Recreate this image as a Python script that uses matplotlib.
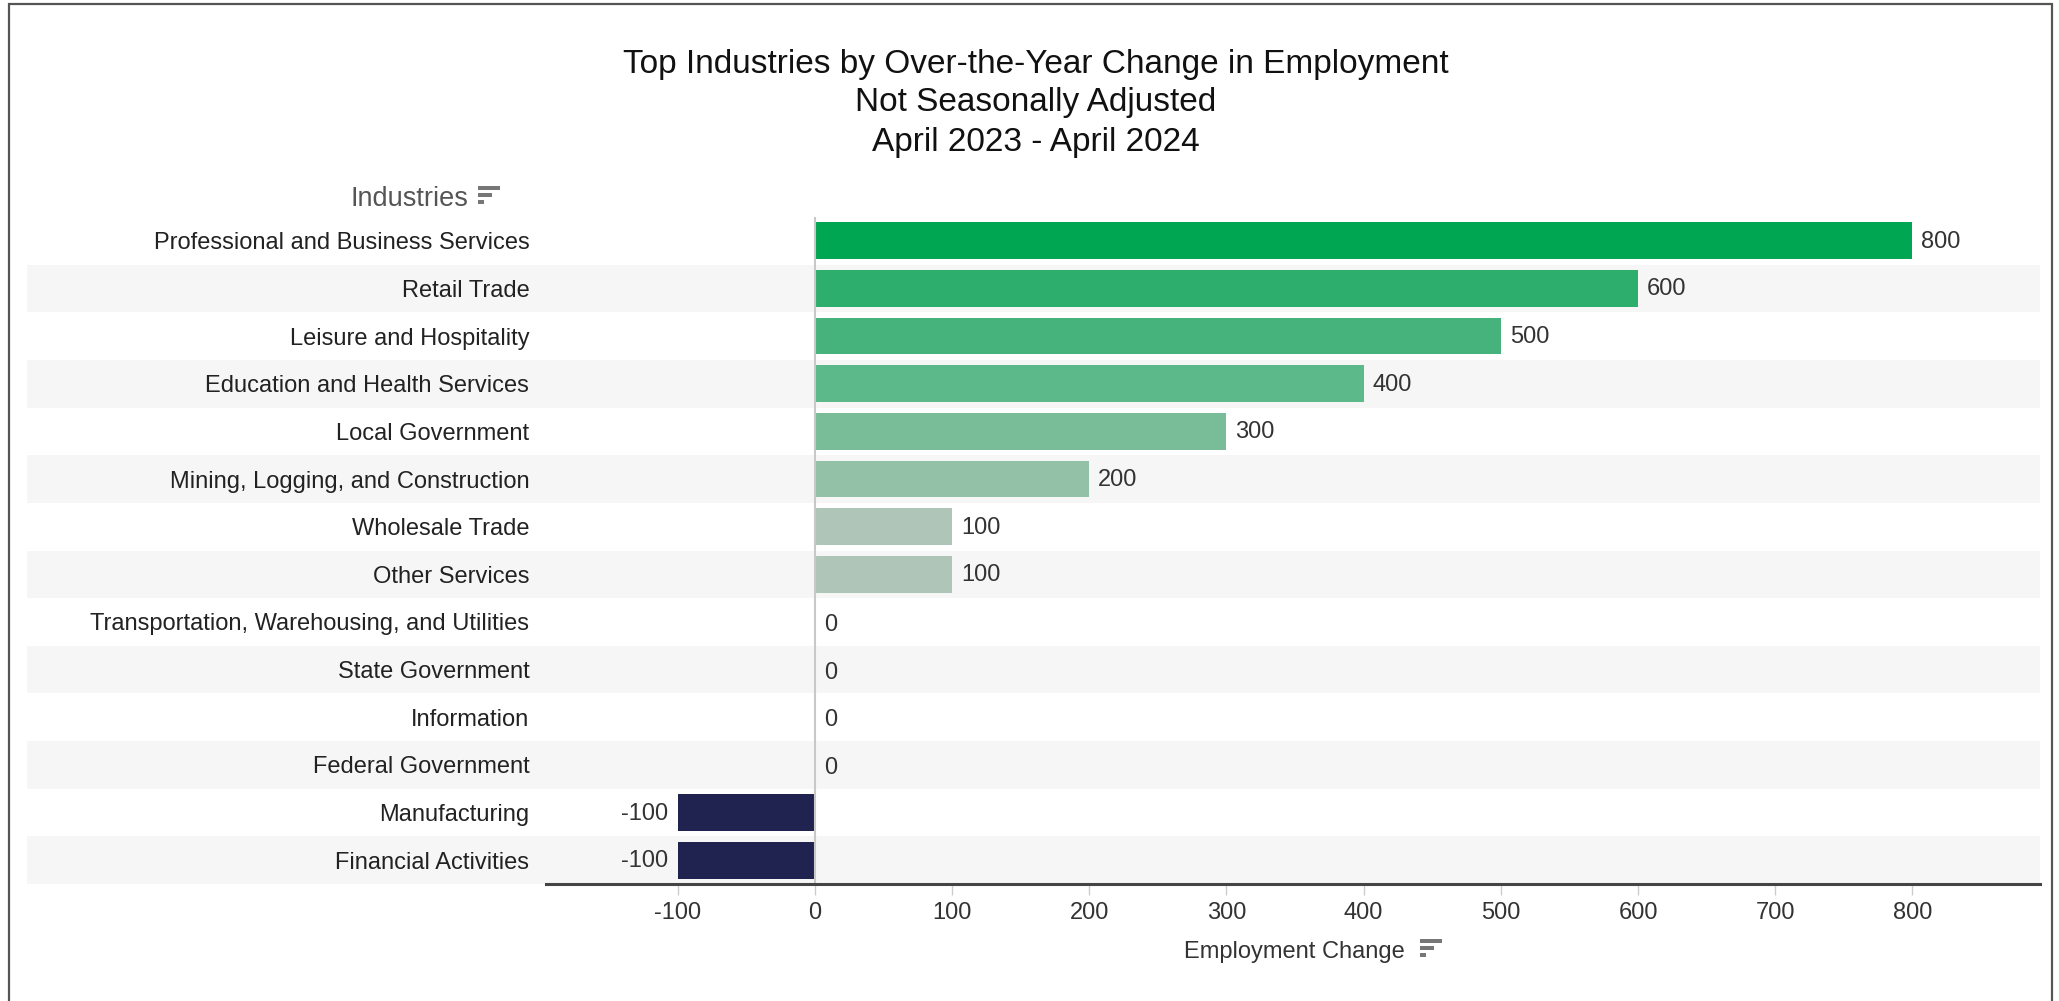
import matplotlib
matplotlib.use("Agg")
from matplotlib import pyplot as plt
from matplotlib.patches import Rectangle
import matplotlib.transforms as mtransforms

industries = [
    "Professional and Business Services",
    "Retail Trade",
    "Leisure and Hospitality",
    "Education and Health Services",
    "Local Government",
    "Mining, Logging, and Construction",
    "Wholesale Trade",
    "Other Services",
    "Transportation, Warehousing, and Utilities",
    "State Government",
    "Information",
    "Federal Government",
    "Manufacturing",
    "Financial Activities",
]
changes = [800, 600, 500, 400, 300, 200, 100, 100, 0, 0, 0, 0, -100, -100]
ticks = [-100, 0, 100, 200, 300, 400, 500, 600, 700, 800]

# colour by value (green scale for gains, navy for losses)
value_colors = {800: "#00a651", 600: "#2eae6c", 500: "#45b37b", 400: "#5cb98a",
                300: "#79bd98", 200: "#93c1a8", 100: "#aec5b7", 0: "#aec5b7",
                -100: "#202350"}

W, H = 2059, 1001
plt.rcParams['font.family'] = ['Liberation Sans', 'DejaVu Sans']
fig = plt.figure(figsize=(W / 100, H / 100), dpi=100)
ax = fig.add_axes([546 / W, 1 - 884 / H, (2040 - 546) / W, (884 - 217) / H])

n = len(industries)
pos = list(range(n))

# striped rows across the whole chart
tr = mtransforms.blended_transform_factory(fig.transFigure, ax.transData)
for i in pos:
    if i % 2 == 1:
        ax.add_patch(Rectangle((27 / W, i - 0.5), (2040 - 27) / W, 1.0, transform=tr,
                               facecolor="#f6f6f6", edgecolor="none", clip_on=False, zorder=0))

ax.barh(pos, changes, height=0.77, color=[value_colors[v] for v in changes], zorder=2)
ax.axvline(0, color="#c8c8c8", lw=1.5, zorder=3)

for i, v in zip(pos, changes):
    if v >= 0:
        ax.annotate(str(v), (v, i), xytext=(9, -1 if v > 0 else -3), textcoords="offset pixels",
                    ha="left", va="center", fontsize=17, color="#333333")
    else:
        ax.annotate(str(v), (v, i), xytext=(-10, -1), textcoords="offset pixels",
                    ha="right", va="center", fontsize=17, color="#333333")

ax.set_xlim(-196, 893)
ax.set_ylim(n - 0.5, -0.5)
ax.set_xticks(ticks)
ax.set_xticklabels([str(t) for t in ticks], fontsize=17, color="#333333")
ax.set_yticks(pos)
ax.set_yticklabels(industries, fontsize=17, color="#222222")
ax.tick_params(axis="y", length=0, pad=12)
ax.tick_params(axis="x", length=8, width=1, color="#cccccc", pad=5)
for s in ["top", "right", "left"]:
    ax.spines[s].set_visible(False)
ax.spines["bottom"].set_color("#444444")
ax.spines["bottom"].set_linewidth(2.2)
ax.spines["bottom"].set_zorder(4)
ax.patch.set_alpha(0)

fig.text(1036 / W, 1 - 64 / H, "Top Industries by Over-the-Year Change in Employment",
         ha="center", va="center", fontsize=24, color="#111111")
fig.text(1036 / W, 1 - 103 / H, "Not Seasonally Adjusted",
         ha="center", va="center", fontsize=24, color="#111111")
fig.text(1036 / W, 1 - 142 / H, "April 2023 - April 2024",
         ha="center", va="center", fontsize=24, color="#111111")

fig.text(468 / W, 1 - 199 / H, "Industries", ha="right", va="center", fontsize=19.5, color="#555555")
fig.text(1405 / W, 1 - 952 / H, "Employment Change", ha="right", va="center", fontsize=17, color="#333333")


def sort_icon(x, y):
    # three stacked bars, getting shorter (pixel coords, top-left)
    for k, w in enumerate([22, 14, 6]):
        fig.add_artist(Rectangle((x / W, 1 - (y + 4 + k * 7) / H), w / W, 4 / H,
                                 transform=fig.transFigure, facecolor="#777777", edgecolor="none"))


sort_icon(478, 186)
sort_icon(1420, 939)

# outer frame
fig.add_artist(Rectangle((9 / W, -0.05), (2052 - 9) / W, 1 - 4 / H + 0.05, transform=fig.transFigure,
                         facecolor="none", edgecolor="#555555", lw=1.6))

fig.savefig("out.png", dpi=100)
